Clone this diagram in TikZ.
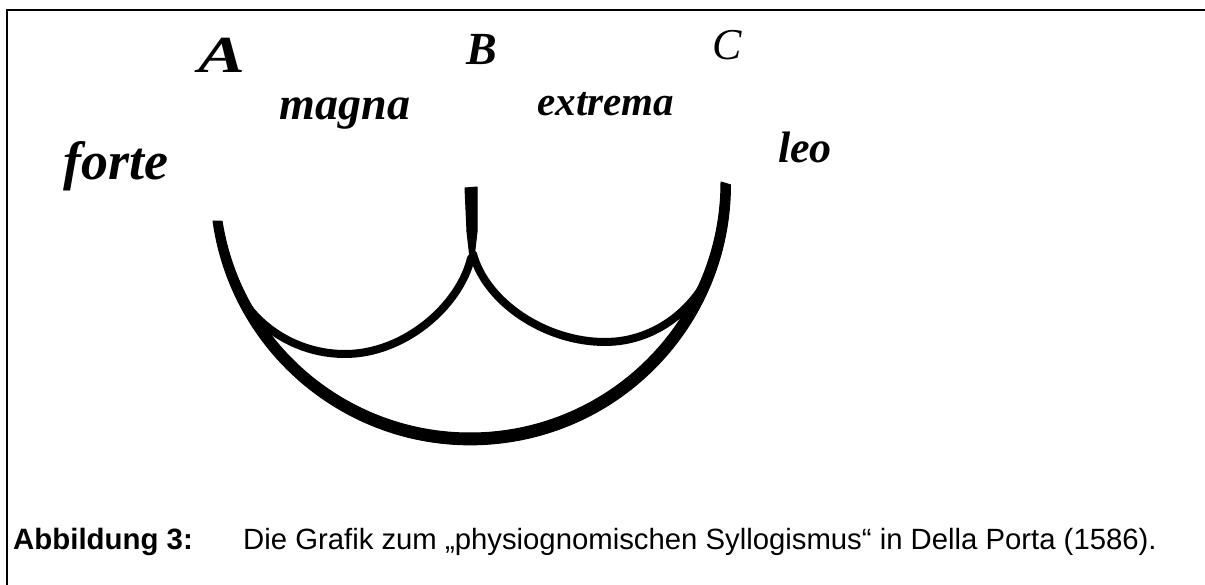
\documentclass[tikz,border=0pt]{standalone}
\usepackage{fontspec}
\setmainfont{Liberation Serif}
\newfontfamily\capfont{Liberation Sans}
\begin{document}
\begin{tikzpicture}[x=1pt,y=-1pt,
  ink/.style={fill=black,draw=black,line width=1pt,line join=round},
  pen/.style={draw=black,line width=8pt,line cap=round},
  lbl/.style={anchor=base,inner sep=0pt},
  capt/.style={anchor=base west,inner sep=0pt}]
\useasboundingbox (0,0) rectangle (1205,585);
% frame (top and left rules)
\draw[line width=2.5pt] (7,585) -- (7,10) -- (1205,10);
% named points
\coordinate (Aout) at (213,221);
\coordinate (Cin) at (721,182);
\coordinate (cuspL) at (471,258);
\coordinate (cuspR) at (473,254);
\coordinate (botL) at (345,354);
\coordinate (botR) at (605,342);
\coordinate (endL) at (243,300);
\coordinate (endR) at (712,268);
% big arc A -> C (thicker at the bottom)
\fill[ink] (Aout) arc[start angle=172,end angle=0,radius=260]
  -- (Cin) arc[start angle=0,end angle=171,radius=251] -- cycle;
% left small arc (A .. B)
\draw[pen] (cuspL) .. controls (460,305) and (405,354) .. (botL)
  .. controls (300,354) and (262,330) .. (endL);
% right small arc (B .. C)
\draw[pen] (cuspR) .. controls (486,302) and (545,342) .. (botR)
  .. controls (658,342) and (698,305) .. (endR);
% B stroke
\fill[ink] (465,188) -- (477,187) -- (477,232) -- (474,258) -- (470,258) -- (467,232) -- cycle;
% labels
\node[lbl,font=\fontsize{52}{56}\selectfont\bfseries\itshape,xscale=1.35] (A) at (222,73) {A};
\node[lbl,font=\fontsize{46}{50}\selectfont\bfseries\itshape] (B) at (482,65) {B};
\node[lbl,font=\fontsize{44}{48}\selectfont\itshape] (C) at (727,60) {C};
\node[lbl,font=\fontsize{46}{50}\selectfont\bfseries\itshape] (magna) at (345,120) {magna};
\node[lbl,font=\fontsize{41}{45}\selectfont\bfseries\itshape] (extrema) at (606,116) {extrema};
\node[lbl,font=\fontsize{54}{58}\selectfont\bfseries\itshape] (forte) at (116,180) {forte};
\node[lbl,font=\fontsize{44}{48}\selectfont\bfseries\itshape] (leo) at (805,163) {leo};
% caption
\node[capt,font=\capfont\bfseries\fontsize{29.4}{34}\selectfont] (abb) at (13,549) {Abbildung 3:};
\node[capt,font=\capfont\fontsize{29.3}{34}\selectfont] (cap) at (243,549) {Die Grafik zum „physiognomischen Syllogismus“ in Della Porta (1586).};
\end{tikzpicture}
\end{document}
